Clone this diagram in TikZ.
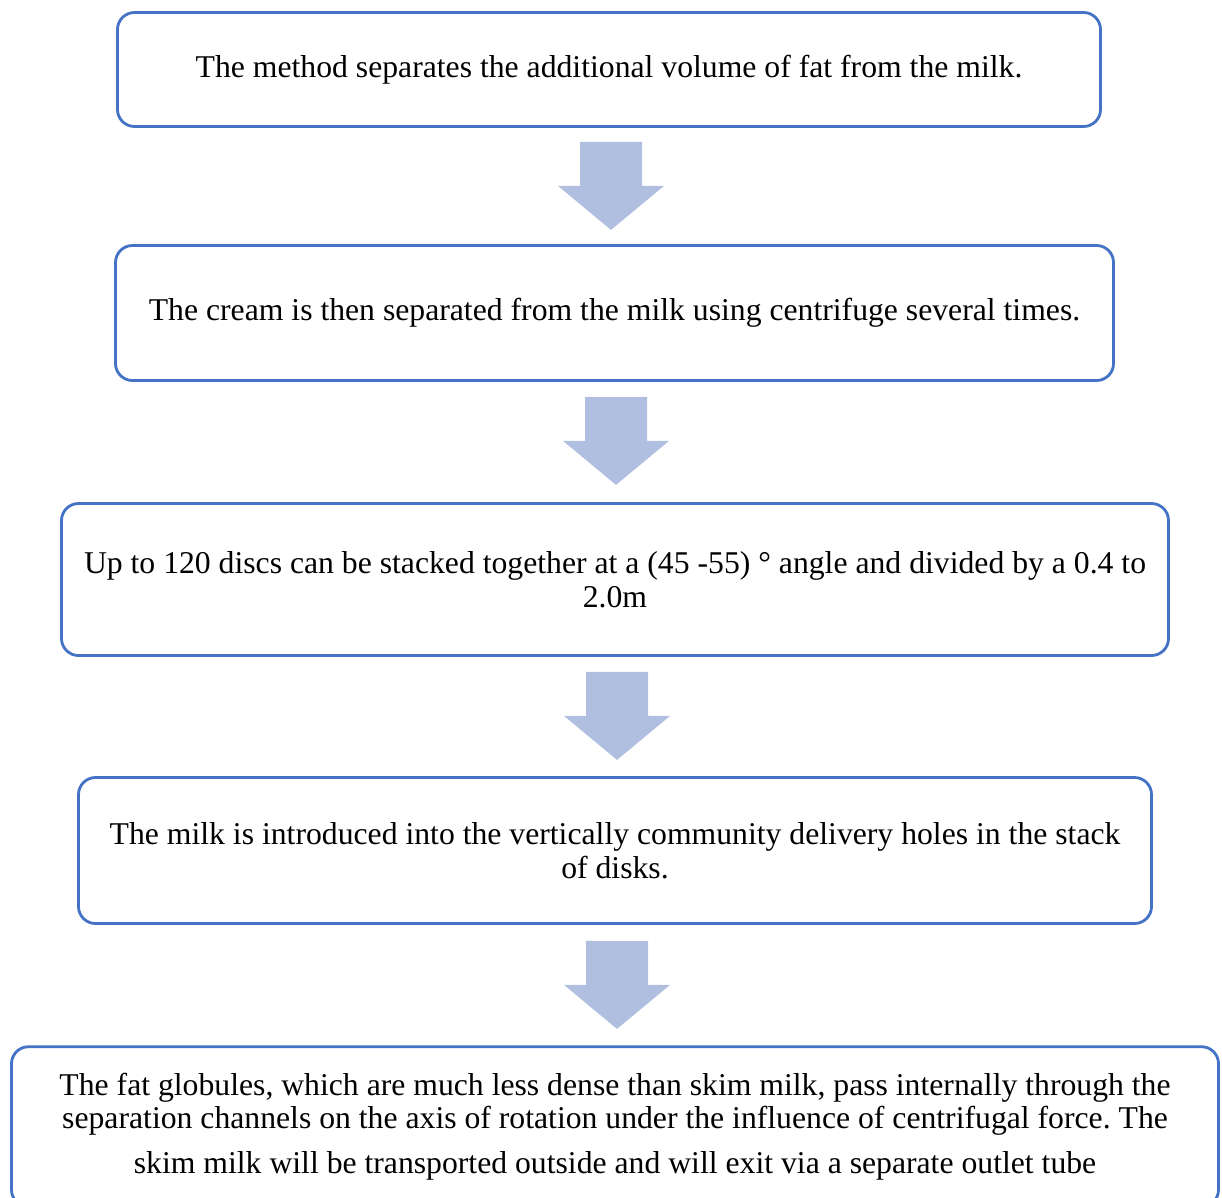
\documentclass[tikz,border=0pt]{standalone}
\usepackage{fontspec}
\setmainfont{Liberation Serif}
\frenchspacing
\usetikzlibrary{calc}
\definecolor{boxline}{RGB}{68,114,196}
\definecolor{arrowfill}{RGB}{176,191,224}
\begin{document}
\begin{tikzpicture}[x=1pt,y=-1pt,
  box/.style={draw=boxline, line width=2.8pt, rounded corners=17pt,
    align=center, inner sep=0pt,
    font=\fontsize{31.7}{33.5}\selectfont},
  downarrow/.pic={
    \fill[arrowfill] (-31,0) -- (31,0) -- (31,44) -- (53,44) -- (0,88)
      -- (-53,44) -- (-31,44) -- cycle;}]
\useasboundingbox (0,0) rectangle (1222,1197);
\clip (0,0) rectangle (1222,1197);

% process steps
\node[box, minimum width=983pt, minimum height=114pt] (b1) at (609,69.5)
  {The method separates the additional volume of fat from the milk.};
\node[box, minimum width=998pt, minimum height=135pt] (b2) at (614.5,313)
  {The cream is then separated from the milk using centrifuge several times.};
\node[box, minimum width=1107pt, minimum height=152pt] (b3) at (615,579.5)
  {Up to 120 discs can be stacked together at a (45 -55) \textdegree{} angle and divided by a 0.4 to\\
   2.0m};
\node[box, minimum width=1073pt, minimum height=146pt] (b4) at (615,850.5)
  {The milk is introduced into the vertically community delivery holes in the stack\\
   of disks.};
\node[box, minimum width=1207pt, minimum height=160pt] (b5) at (615,1126.7)
  {The fat globules, which are much less dense than skim milk, pass internally through the\\
   separation channels on the axis of rotation under the influence of centrifugal force. The\\[11.5pt]
   skim milk will be transported outside and will exit via a separate outlet tube};

% block arrows between the steps
\pic (a1) at ($(b1.south)+(2,14)$) {downarrow};
\pic (a2) at ($(b2.south)+(1.5,15)$) {downarrow};
\pic (a3) at ($(b3.south)+(2,15)$) {downarrow};
\pic (a4) at ($(b4.south)+(2,16)$) {downarrow};
\end{tikzpicture}
\end{document}
